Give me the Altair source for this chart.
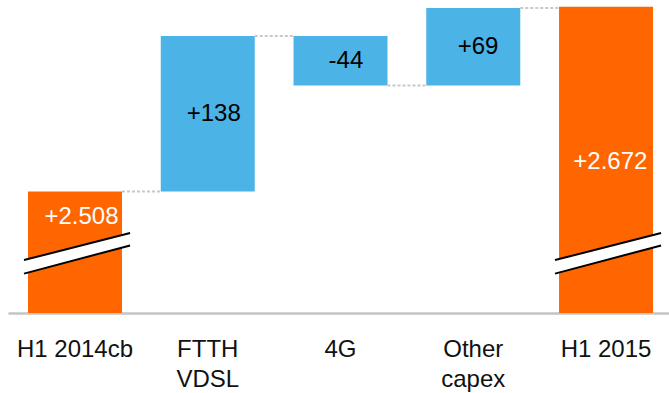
import altair as alt
import pandas as pd

# ---- data ----
categories = ["H1 2014cb", "FTTH\nVDSL", "4G", "Other\ncapex", "H1 2015"]
values = [2508, 138, -44, 69, 2672]
kinds = ["total", "delta", "delta", "delta", "total"]
labels = ["+2.508", "+138", "-44", "+69", "+2.672"]
axis_floor = 2400
axis_top = 2678
# label positions for the total bars (data units); deltas are centred
total_label_y = {0: 2485, 4: 2534}

# axis-break marks (drawn on the two total bars)
break_bars = [0, 4]
break_x_offset = [-0.384, 0.415]
break_upper = [2447, 2471]
break_lower = [2435, 2460]

# ---- derived tables ----
rows = []
running = 0
for i, (c, v, k, lab) in enumerate(zip(categories, values, kinds, labels)):
    if k == "total":
        lo, hi = axis_floor, v
        running = v
    else:
        lo, hi = running, running + v
        running = running + v
    ly = total_label_y.get(i, (lo + hi) / 2)
    rows.append({"cat": c, "i": i, "lo": lo, "hi": hi, "kind": k,
                 "label": lab, "ly": ly,
                 "tcolor": "white" if k == "total" else "black"})
bars_df = pd.DataFrame(rows)

# connectors: from bar i right edge to bar i+1 left edge at the running level
half = 0.354
conn_rows = []
for i in range(len(categories) - 1):
    r = rows[i]
    conn_rows.append({"x": i + half, "x2": i + 1 - half, "y": r["hi"]})
conn_df = pd.DataFrame(conn_rows)

area_rows, line_rows = [], []
for b in break_bars:
    for off, up, lowv in zip(break_x_offset, break_upper, break_lower):
        area_rows.append({"b": b, "x": b + off, "up": up, "low": lowv})
        line_rows.append({"lid": f"{b}u", "x": b + off, "y": up})
        line_rows.append({"lid": f"{b}l", "x": b + off, "y": lowv})
area_df = pd.DataFrame(area_rows)
line_df = pd.DataFrame(line_rows)

FONT = "Liberation Sans"
FS = 24
yscale = alt.Scale(domain=[axis_floor, axis_top], nice=False, zero=False)
band = alt.Scale(paddingInner=0.292, paddingOuter=0.1355, align=0.556)
qx = alt.Scale(domain=[-0.5047, 4.4746], nice=False, zero=False)

bars = alt.Chart(bars_df).mark_bar().encode(
    x=alt.X("cat:N", sort=categories, scale=band,
            axis=alt.Axis(title=None, labelExpr="split(datum.value, '\\n')",
                          labelAngle=0, ticks=False, grid=False,
                          labelFont=FONT, labelFontSize=FS, labelColor="#111111",
                          labelLineHeight=30, labelPadding=24,
                          domainColor="#c4c4c4", domainWidth=2.5)),
    y=alt.Y("lo:Q", scale=yscale, axis=None),
    y2="hi:Q",
    color=alt.Color("kind:N", scale=alt.Scale(domain=["total", "delta"],
                                              range=["#FF6600", "#4BB3E6"]),
                    legend=None),
)

text = alt.Chart(bars_df).mark_text(font=FONT, fontSize=FS, baseline="middle").encode(
    x=alt.X("cat:N", sort=categories, scale=band, axis=None),
    y=alt.Y("ly:Q", scale=yscale, axis=None),
    text="label:N",
    color=alt.Color("tcolor:N", scale=None),
)

conn = alt.Chart(conn_df).mark_rule(color="#c8c8c8", strokeWidth=2, strokeDash=[3, 2]).encode(
    x=alt.X("x:Q", scale=qx, axis=None),
    x2="x2:Q",
    y=alt.Y("y:Q", scale=yscale, axis=None),
)

brk_area = alt.Chart(area_df).mark_area(color="white", opacity=1).encode(
    x=alt.X("x:Q", scale=qx, axis=None),
    y=alt.Y("up:Q", scale=yscale, axis=None),
    y2="low:Q",
    detail="b:N",
)

brk_lines = alt.Chart(line_df).mark_line(color="black", strokeWidth=2).encode(
    x=alt.X("x:Q", scale=qx, axis=None),
    y=alt.Y("y:Q", scale=yscale, axis=None),
    detail="lid:N",
)

chart = alt.layer(bars, text, conn, brk_area, brk_lines).resolve_scale(
    x="independent"
).properties(
    width=661, height=313,
    padding={"left": 8, "top": 0, "right": 0, "bottom": 80},
    autosize=alt.AutoSizeParams(type="none"),
    background="white",
).configure_view(stroke=None)

chart.save("out.html", embed_options={"renderer": "svg", "actions": False})
